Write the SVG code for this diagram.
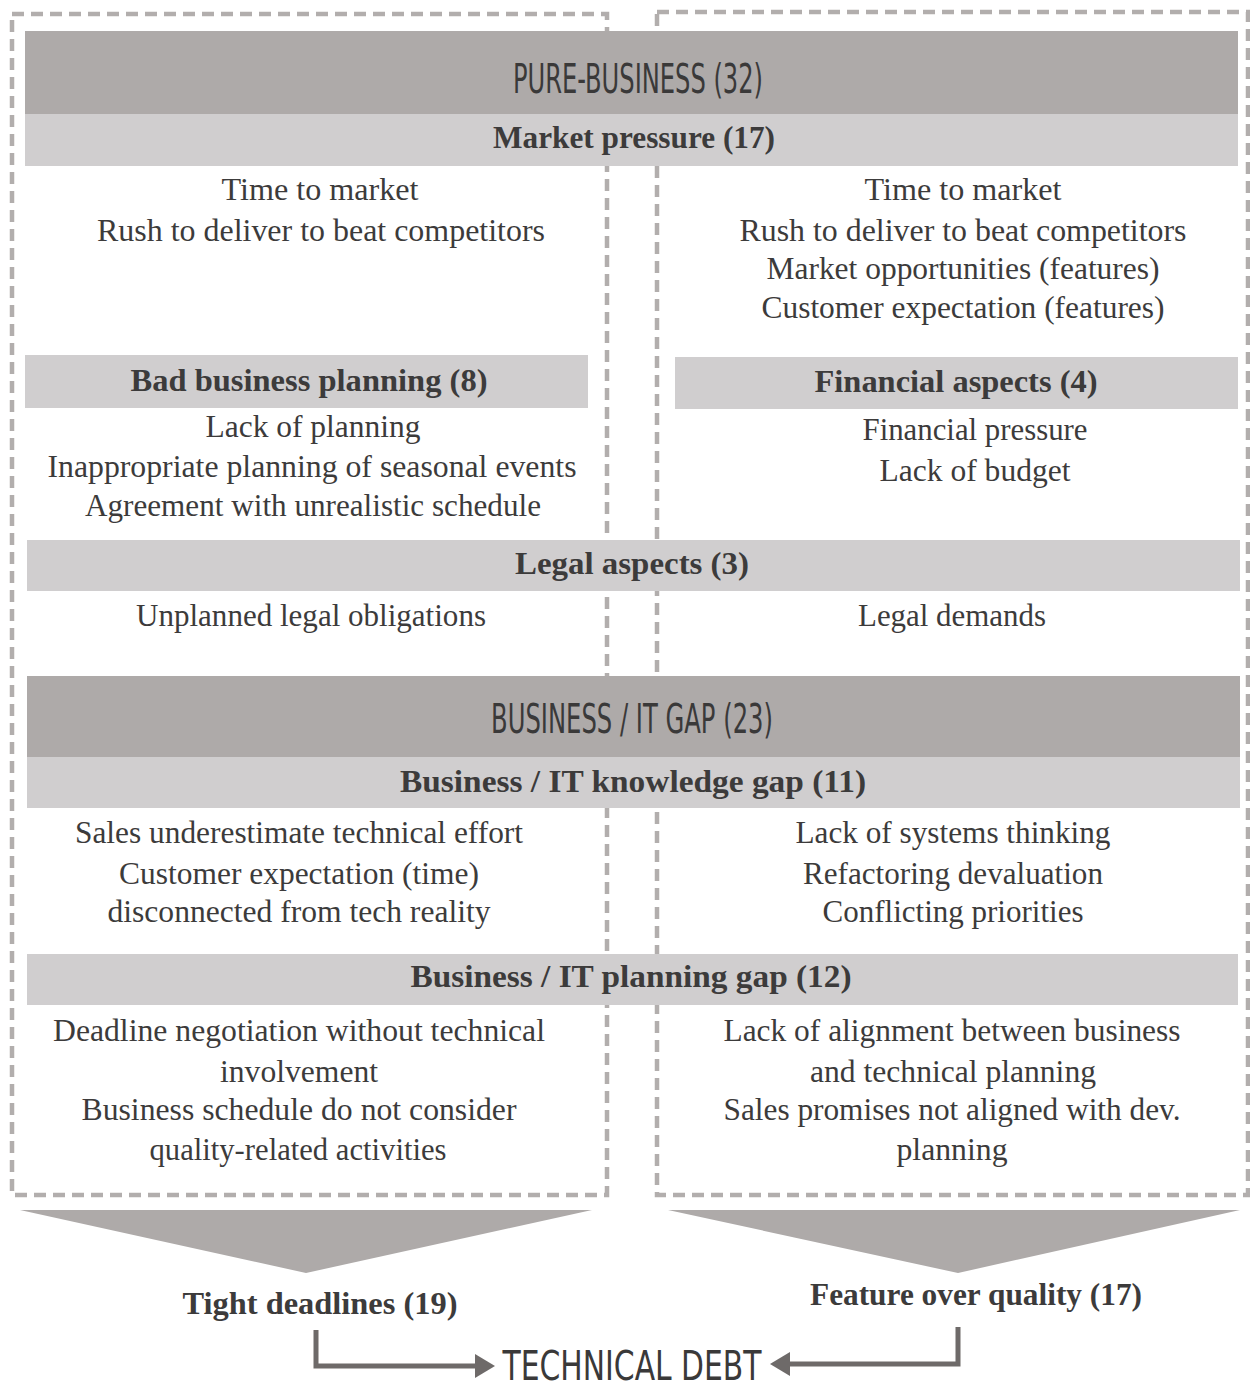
<svg xmlns="http://www.w3.org/2000/svg" width="1250" height="1391" viewBox="0 0 1250 1391">
<defs>
<style>
.dash{fill:none;stroke:#b2aead;stroke-width:4.5;stroke-dasharray:12 7}
.dark{fill:#aeaaa9}
.light{fill:#d0cecf}
.hdr{font-family:"Liberation Sans Narrow","DejaVu Sans Condensed","Liberation Sans",sans-serif;font-size:41px;fill:#3a3939;text-anchor:middle}
.sub{font-family:"Liberation Serif",serif;font-weight:bold;font-size:31px;fill:#3c3b3b;text-anchor:middle}
.txt{font-family:"Liberation Serif",serif;font-size:31px;fill:#3c3b3b;text-anchor:middle}
.conn{fill:none;stroke:#6e6a69;stroke-width:5}
</style>
<marker id="ah" markerUnits="userSpaceOnUse" markerWidth="22" markerHeight="26" refX="2" refY="13" orient="auto">
<polygon points="0,1 20,13 0,25" fill="#6e6a69"/>
</marker>
</defs>
<rect width="1250" height="1391" fill="#ffffff"/>

<g id="frames">
<rect class="dash" x="12" y="14" width="595" height="1181"/>
<rect class="dash" x="657" y="12" width="591" height="1183"/>
</g>

<g id="pure-business">
<rect class="dark" x="25" y="31" width="1213" height="83"/>
<text class="hdr" x="638" y="93" textLength="250" lengthAdjust="spacingAndGlyphs">PURE-BUSINESS (32)</text>
</g>

<g id="market-pressure">
<rect class="light" x="25" y="114" width="1213" height="52"/>
<text class="sub" x="634" y="148" textLength="282" lengthAdjust="spacingAndGlyphs">Market pressure (17)</text>
<text class="txt" x="320" y="200" textLength="197" lengthAdjust="spacingAndGlyphs">Time to market</text>
<text class="txt" x="321" y="241" textLength="448" lengthAdjust="spacingAndGlyphs">Rush to deliver to beat competitors</text>
<text class="txt" x="963" y="200" textLength="197" lengthAdjust="spacingAndGlyphs">Time to market</text>
<text class="txt" x="963" y="241" textLength="447" lengthAdjust="spacingAndGlyphs">Rush to deliver to beat competitors</text>
<text class="txt" x="963" y="279" textLength="393" lengthAdjust="spacingAndGlyphs">Market opportunities (features)</text>
<text class="txt" x="963" y="318" textLength="403" lengthAdjust="spacingAndGlyphs">Customer expectation (features)</text>
</g>

<g id="bad-business-planning">
<rect class="light" x="25" y="355" width="563" height="53"/>
<text class="sub" x="309" y="391" textLength="357" lengthAdjust="spacingAndGlyphs">Bad business planning (8)</text>
<text class="txt" x="313" y="437" textLength="215" lengthAdjust="spacingAndGlyphs">Lack of planning</text>
<text class="txt" x="312" y="477" textLength="529" lengthAdjust="spacingAndGlyphs">Inappropriate planning of seasonal events</text>
<text class="txt" x="313" y="516" textLength="456" lengthAdjust="spacingAndGlyphs">Agreement with unrealistic schedule</text>
</g>

<g id="financial-aspects">
<rect class="light" x="675" y="357" width="563" height="52"/>
<text class="sub" x="956" y="392" textLength="283" lengthAdjust="spacingAndGlyphs">Financial aspects (4)</text>
<text class="txt" x="975" y="440" textLength="225" lengthAdjust="spacingAndGlyphs">Financial pressure</text>
<text class="txt" x="975" y="481" textLength="191" lengthAdjust="spacingAndGlyphs">Lack of budget</text>
</g>

<g id="legal-aspects">
<rect class="light" x="27" y="540" width="1213" height="51"/>
<text class="sub" x="632" y="574" textLength="234" lengthAdjust="spacingAndGlyphs">Legal aspects (3)</text>
<text class="txt" x="311" y="626" textLength="350" lengthAdjust="spacingAndGlyphs">Unplanned legal obligations</text>
<text class="txt" x="952" y="626" textLength="188" lengthAdjust="spacingAndGlyphs">Legal demands</text>
</g>

<g id="business-it-gap">
<rect class="dark" x="27" y="676" width="1213" height="81"/>
<text class="hdr" x="632" y="733" textLength="282" lengthAdjust="spacingAndGlyphs">BUSINESS / IT GAP (23)</text>
</g>

<g id="knowledge-gap">
<rect class="light" x="27" y="757" width="1213" height="51"/>
<text class="sub" x="633" y="792" textLength="466" lengthAdjust="spacingAndGlyphs">Business / IT knowledge gap (11)</text>
<text class="txt" x="299" y="843" textLength="448" lengthAdjust="spacingAndGlyphs">Sales underestimate technical effort</text>
<text class="txt" x="299" y="884" textLength="360" lengthAdjust="spacingAndGlyphs">Customer expectation (time)</text>
<text class="txt" x="299" y="922" textLength="383" lengthAdjust="spacingAndGlyphs">disconnected from tech reality</text>
<text class="txt" x="953" y="843" textLength="315" lengthAdjust="spacingAndGlyphs">Lack of systems thinking</text>
<text class="txt" x="953" y="884" textLength="300" lengthAdjust="spacingAndGlyphs">Refactoring devaluation</text>
<text class="txt" x="953" y="922" textLength="261" lengthAdjust="spacingAndGlyphs">Conflicting priorities</text>
</g>

<g id="planning-gap">
<rect class="light" x="27" y="954" width="1211" height="51"/>
<text class="sub" x="631" y="987" textLength="441" lengthAdjust="spacingAndGlyphs">Business / IT planning gap (12)</text>
<text class="txt" x="299" y="1041" textLength="492" lengthAdjust="spacingAndGlyphs">Deadline negotiation without technical</text>
<text class="txt" x="299" y="1082" textLength="158" lengthAdjust="spacingAndGlyphs">involvement</text>
<text class="txt" x="299" y="1120" textLength="435" lengthAdjust="spacingAndGlyphs">Business schedule do not consider</text>
<text class="txt" x="298" y="1160" textLength="297" lengthAdjust="spacingAndGlyphs">quality-related activities</text>
<text class="txt" x="952" y="1041" textLength="457" lengthAdjust="spacingAndGlyphs">Lack of alignment between business</text>
<text class="txt" x="953" y="1082" textLength="286" lengthAdjust="spacingAndGlyphs">and technical planning</text>
<text class="txt" x="952" y="1120" textLength="457" lengthAdjust="spacingAndGlyphs">Sales promises not aligned with dev.</text>
<text class="txt" x="952" y="1160" textLength="111" lengthAdjust="spacingAndGlyphs">planning</text>
</g>

<g id="tight-deadlines">
<polygon class="dark" points="20,1210 592,1210 306,1273"/>
<text class="sub" x="320" y="1314" textLength="275" lengthAdjust="spacingAndGlyphs">Tight deadlines (19)</text>
</g>

<g id="feature-over-quality">
<polygon class="dark" points="668,1210 1240,1210 958,1273"/>
<text class="sub" x="976" y="1305" textLength="332" lengthAdjust="spacingAndGlyphs">Feature over quality (17)</text>
</g>

<g id="technical-debt">
<text class="hdr" x="632" y="1380" font-size="48" textLength="259" lengthAdjust="spacingAndGlyphs">TECHNICAL DEBT</text>
</g>

<g id="connectors">
<path class="conn" d="M316,1330 V1366 H477" marker-end="url(#ah)"/>
<path class="conn" d="M958,1327 V1364 H788" marker-end="url(#ah)"/>
</g>
</svg>
